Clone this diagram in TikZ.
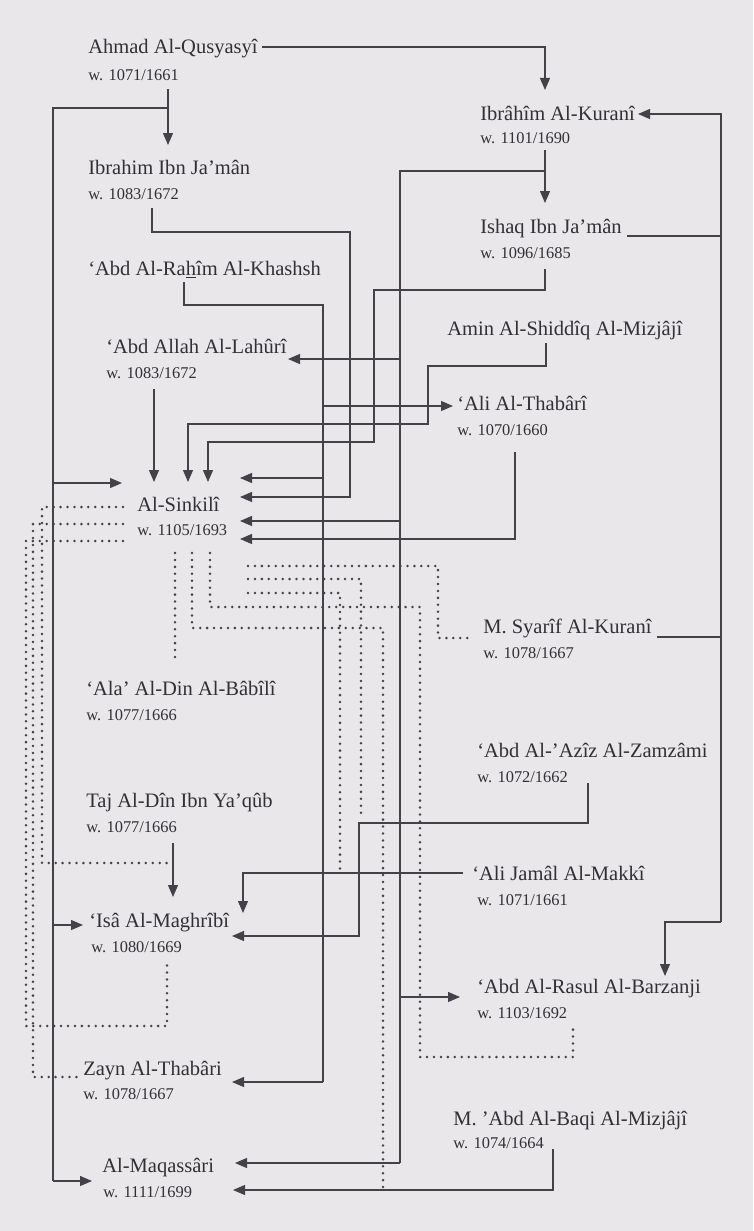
\documentclass[tikz,border=0pt]{standalone}
\usepackage{fontspec}
\setmainfont{Liberation Serif}
\usetikzlibrary{arrows.meta,calc}
\definecolor{paper}{RGB}{233,231,234}
\definecolor{ink}{RGB}{50,48,54}
\definecolor{rule}{RGB}{66,66,72}
\tikzset{
  scholar/.style={anchor=base west,inner sep=0pt,text=ink,font=\fontsize{15.4}{18}\selectfont},
  wafat/.style={anchor=base west,inner sep=0pt,text=ink,font=\fontsize{12.3}{14}\selectfont},
  link/.style={draw=rule,line width=0.9pt},
  tolink/.style={link,-{Triangle[length=9pt,width=7.5pt]}},
  dotlink/.style={draw=rule,line width=2.1pt,line cap=round,dash pattern=on 0pt off 5.2pt},
}

\begin{document}
\begin{tikzpicture}[x=0.75pt,y=-0.75pt]
  \fill[paper] (0,0) rectangle (753,1231);
  \useasboundingbox (0,0) rectangle (753,1231);

  % scholars, left column
  \node[scholar] (ahmad) at (88,54) {Ahmad Al-Qusyasyî};
  \node[wafat] (ahmad-w) at (88,80) {w. 1071/1661};
  \node[scholar] (ibnjaman) at (88,174) {Ibrahim Ibn Ja’mân};
  \node[wafat] (ibnjaman-w) at (88,199) {w. 1083/1672};
  \node[scholar] (rahim) at (88,275) {‘Abd Al-Ra\underline{h}îm Al-Khashsh};
  \node[scholar] (lahuri) at (106,353) {‘Abd Allah Al-Lahûrî};
  \node[wafat] (lahuri-w) at (106,378) {w. 1083/1672};
  \node[scholar] (sinkili) at (137,511) {Al-Sinkilî};
  \node[wafat] (sinkili-w) at (137,535) {w. 1105/1693};
  \node[scholar] (babili) at (86,695) {‘Ala’ Al-Din Al-Bâbîlî};
  \node[wafat] (babili-w) at (86,720) {w. 1077/1666};
  \node[scholar] (taj) at (86,807) {Taj Al-Dîn Ibn Ya’qûb};
  \node[wafat] (taj-w) at (86,832) {w. 1077/1666};
  \node[scholar] (isa) at (89,927) {‘Isâ Al-Maghrîbî};
  \node[wafat] (isa-w) at (91,952) {w. 1080/1669};
  \node[scholar] (zayn) at (83,1075) {Zayn Al-Thabâri};
  \node[wafat] (zayn-w) at (83,1099) {w. 1078/1667};
  \node[scholar] (maqassari) at (102,1172) {Al-Maqassâri};
  \node[wafat] (maqassari-w) at (103,1197) {w. 1111/1699};

  % scholars, right column
  \node[scholar] (kurani) at (480,120) {Ibrâhîm Al-Kuranî};
  \node[wafat] (kurani-w) at (480,143) {w. 1101/1690};
  \node[scholar] (ishaq) at (480,233) {Ishaq Ibn Ja’mân};
  \node[wafat] (ishaq-w) at (480,258) {w. 1096/1685};
  \node[scholar] (amin) at (447,335) {Amin Al-Shiddîq Al-Mizjâjî};
  \node[scholar] (thabari) at (457,410) {‘Ali Al-Thabârî};
  \node[wafat] (thabari-w) at (457,435) {w. 1070/1660};
  \node[scholar] (syarif) at (483,633) {M. Syarîf Al-Kuranî};
  \node[wafat] (syarif-w) at (483,658) {w. 1078/1667};
  \node[scholar] (zamzami) at (477,757) {‘Abd Al-’Azîz Al-Zamzâmi};
  \node[wafat] (zamzami-w) at (477,782) {w. 1072/1662};
  \node[scholar] (makki) at (472,880) {‘Ali Jamâl Al-Makkî};
  \node[wafat] (makki-w) at (477,905) {w. 1071/1661};
  \node[scholar] (barzanji) at (477,993) {‘Abd Al-Rasul Al-Barzanji};
  \node[wafat] (barzanji-w) at (477,1018) {w. 1103/1692};
  \node[scholar] (mizjaji) at (453,1125) {M. ’Abd Al-Baqi Al-Mizjâjî};
  \node[wafat] (mizjaji-w) at (453,1148) {w. 1074/1664};

  % arrow tips into Al-Sinkili
  \coordinate (sinkili-l) at (122,483);
  \coordinate (sinkili-t1) at (154,482);
  \coordinate (sinkili-t2) at (188,482);
  \coordinate (sinkili-t3) at (208,482);
  \coordinate (sinkili-r1) at (240,478);
  \coordinate (sinkili-r2) at (240,497);
  \coordinate (sinkili-r3) at (240,521);
  \coordinate (sinkili-r4) at (240,539);

  % Ahmad Al-Qusyasyi
  \coordinate (ahmad-out) at (262,47);
  \coordinate (ahmad-down) at (168,89);
  \coordinate (ahmad-split) at (168,108);
  \draw[tolink] (ahmad-out) -| (545,90);
  \draw[tolink] (ahmad-down) -- (168,145);
  \draw[link] (ahmad-split) -| (53,1181);
  \draw[tolink] (53,483) -- (sinkili-l);
  \draw[tolink] (53,925) -- (83,925);
  \draw[tolink] (53,1181) -- (92,1181);

  % Ibrahim Ibn Ja'man
  \coordinate (ibnjaman-out) at (152,208);
  \draw[tolink] (ibnjaman-out) |- (350,232) |- (sinkili-r2);

  % 'Abd Al-Rahim Al-Khashsh
  \coordinate (rahim-out) at (184,282);
  \draw[link] (rahim-out) |- (323,305) -- (323,1082);
  \draw[tolink] (323,406) -- (453,406);
  \draw[tolink] (323,478) -- (sinkili-r1);
  \draw[tolink] (323,1082) -- (232,1082);

  % Ibrahim Al-Kurani
  \coordinate (kurani-out) at (545,150);
  \draw[tolink] (kurani-out) -- (545,203);
  \draw[link] (545,171) -| (400,1163);
  \draw[tolink] (400,359) -- (288,359);
  \draw[tolink] (400,521) -- (sinkili-r3);
  \draw[tolink] (400,997) -- (460,997);
  \draw[tolink] (400,1163) -- (235,1163);

  % right lane: Ishaq, M. Syarif
  \coordinate (ishaq-r) at (627,236);
  \coordinate (syarif-r) at (657,637);
  \draw[tolink] (721,922) |- (638,114);
  \draw[tolink] (721,922) -| (665,976);
  \draw[link] (ishaq-r) -- (721,236);
  \draw[link] (syarif-r) -- (721,637);

  % Ishaq Ibn Ja'man
  \coordinate (ishaq-out) at (545,269);
  \draw[tolink] (ishaq-out) |- (374,290) |- (208,442) -- (sinkili-t3);

  % Amin Al-Shiddiq Al-Mizjaji
  \coordinate (amin-out) at (546,343);
  \draw[tolink] (amin-out) |- (428,366) |- (188,424) -- (sinkili-t2);

  % 'Abd Allah Al-Lahuri
  \coordinate (lahuri-out) at (154,389);
  \draw[tolink] (lahuri-out) -- (sinkili-t1);

  % 'Ali Al-Thabari
  \coordinate (thabari-out) at (515,452);
  \draw[tolink] (thabari-out) |- (sinkili-r4);

  % 'Abd Al-'Aziz Al-Zamzami
  \coordinate (zamzami-out) at (588,783);
  \draw[tolink] (zamzami-out) |- (359,823) |- (232,936);

  % 'Ali Jamal Al-Makki
  \coordinate (makki-l) at (463,873);
  \draw[tolink] (makki-l) -| (243,913);

  % Taj Al-Din Ibn Ya'qub
  \coordinate (taj-out) at (173,843);
  \draw[tolink] (taj-out) -- (173,897);

  % M. 'Abd Al-Baqi Al-Mizjaji
  \coordinate (mizjaji-out) at (553,1149);
  \draw[tolink] (mizjaji-out) |- (233,1190);

  % dotted lines out of Al-Sinkili
  \draw[dotlink] (123,507) -| (42,863) -- (170,863);
  \draw[dotlink] (123,524) -| (33,1077) -- (78,1077);
  \draw[dotlink] (123,541) -| (26,1026) -- (167,1026) -- (167,965);
  \draw[dotlink] (175,553) -- (175,663);
  \draw[dotlink] (192,553) |- (383,628) -- (383,1188);
  \draw[dotlink] (210,553) |- (420,607) |- (573,1057) -- (573,1025);
  \draw[dotlink] (248,566) -| (438,638) -- (470,638);
  \draw[dotlink] (248,579) -| (361,815);
  \draw[dotlink] (248,593) -| (340,870);
\end{tikzpicture}
\end{document}
